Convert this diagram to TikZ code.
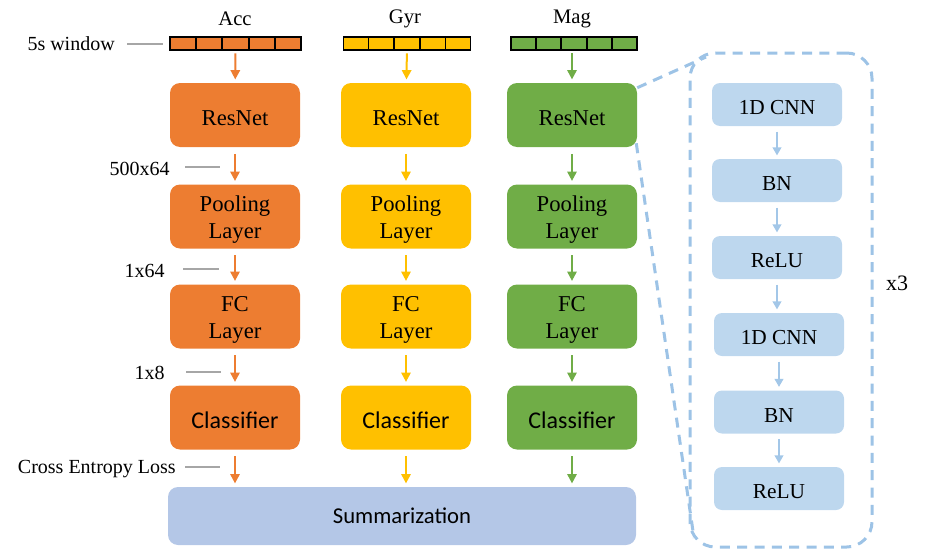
\documentclass[tikz,border=0pt]{standalone}
\usepackage{fontspec}
\setmainfont{Liberation Serif}
\newfontfamily\sansf{Carlito}
\usetikzlibrary{arrows.meta,calc}
\definecolor{corange}{HTML}{ED7D31}
\definecolor{cyellow}{HTML}{FFC000}
\definecolor{cgreen}{HTML}{70AD47}
\definecolor{csum}{HTML}{B4C7E7}
\definecolor{cpanel}{HTML}{BDD7EE}
\definecolor{cdash}{HTML}{9DC3E6}
\definecolor{cgray}{HTML}{A6A6A6}
\newcommand\lowtxt[1]{\raisebox{-2.4pt}[\height][\depth]{#1}}
\newcommand\twolines[2]{\lowtxt{\begin{tabular}{@{}c@{}}#1\\#2\end{tabular}}}
\tikzset{
  mainbox/.style={rectangle, rounded corners=7.5pt, minimum width=97.5pt, minimum height=48pt, inner sep=0pt, font=\rmfamily\fontsize{17}{20}\selectfont},
  clsbox/.style={mainbox, font=\sansf\fontsize{18}{20}\selectfont},
  winbox/.style={rectangle, draw=black, line width=1.2pt, minimum height=9.75pt, inner sep=0pt},
  pbox/.style={rectangle, rounded corners=6pt, fill=cpanel, minimum width=97.5pt, minimum height=32.25pt, inner sep=0pt, font=\rmfamily\fontsize{16}{18}\selectfont},
  sidelbl/.style={font=\rmfamily\fontsize{15}{17}\selectfont, inner sep=0pt},
  toplbl/.style={font=\rmfamily\fontsize{15.5}{17}\selectfont, inner sep=0pt},
  flow/.style={-{Triangle[length=7pt,width=7pt]}, line width=1.5pt, shorten <=5pt, shorten >=2.5pt},
  pflow/.style={-{Triangle[length=6pt,width=6.5pt]}, line width=1.3pt, draw=cdash!80!cpanel, shorten <=4pt, shorten >=2.5pt},
  glin/.style={draw=cgray, line width=1.2pt},
  dashln/.style={draw=cdash, line width=2.25pt, dash pattern=on 7.5pt off 5.5pt}
}
\begin{document}
\begin{tikzpicture}[x=0.75pt,y=-0.75pt]
\useasboundingbox (0,0) rectangle (926,557);

% top labels
\node[toplbl] (lacc) at (235,19) {Acc};
\node[toplbl] (lgyr) at (405,19) {Gyr};
\node[toplbl] (lmag) at (572,19) {Mag};

% windows
\node[winbox, fill=corange, minimum width=98.25pt] (wacc) at (235.5,43.5) {};
\node[winbox, fill=cyellow, minimum width=95.25pt] (wgyr) at (407,43.5) {};
\node[winbox, fill=cgreen, minimum width=94.5pt] (wmag) at (574,43.5) {};
\foreach \w in {wacc,wgyr,wmag}{
  \foreach \i in {1,2,3,4}{
    \draw[black, line width=1.2pt] ($(\w.north west)!\i/5!(\w.north east)$) -- ($(\w.south west)!\i/5!(\w.south east)$);
  }
}

% columns
\foreach \c/\x/\col in {a/235/corange, g/406/cyellow, m/572/cgreen}{
  \node[mainbox, fill=\col] (\c res) at (\x,115) {\lowtxt{ResNet}};
  \node[mainbox, fill=\col] (\c pool) at (\x,216.5) {\twolines{Pooling}{Layer}};
  \node[mainbox, fill=\col] (\c fc) at (\x,316.5) {\twolines{FC}{Layer}};
  \node[clsbox, fill=\col] (\c cls) at (\x,417.5) {\lowtxt{Classifier}};
}

\node[rectangle, rounded corners=7.5pt, fill=csum, minimum width=351pt, minimum height=43.5pt, font=\sansf\fontsize{17}{20}\selectfont] (sum) at (402,516) {Summarization};

% column arrows
\draw[flow, draw=corange, shorten <=2pt] (wacc) -- (ares);
\draw[flow, draw=cyellow, shorten <=2pt] (wgyr) -- (gres);
\draw[flow, draw=cgreen, shorten <=2pt] (wmag.south -| mres) -- (mres);
\foreach \c/\col in {a/corange, g/cyellow, m/cgreen}{
  \draw[flow, draw=\col] (\c res) -- (\c pool);
  \draw[flow, draw=\col] (\c pool) -- (\c fc);
  \draw[flow, draw=\col] (\c fc) -- (\c cls);
  \draw[flow, draw=\col] (\c cls) -- (\c cls |- sum.north);
}

% side labels
\node[sidelbl, anchor=east] (l5s) at (115,44) {5s window};
\node[sidelbl, anchor=east] (l500) at (170,169) {500x64};
\node[sidelbl, anchor=east] (l164) at (165,271) {1x64};
\node[sidelbl, anchor=east] (l18) at (165,373) {1x8};
\node[sidelbl, anchor=east] (lce) at (176,469) {Cross Entropy Loss};
\coordinate (e5s) at (163,44);
\coordinate (e500) at (220,167);
\coordinate (e164) at (219,269);
\coordinate (e18) at (221,372);
\coordinate (ece) at (220,467);
\draw[glin] ($(l5s.east)+(12,0)$) -- (e5s);
\draw[glin] ($(l500.east)+(15,-2)$) -- (e500);
\draw[glin] ($(l164.east)+(18,-2)$) -- (e164);
\draw[glin] ($(l18.east)+(21,-1)$) -- (e18);
\draw[glin] ($(lce.east)+(9,-2)$) -- (ece);

% right panel
\node[rectangle, rounded corners=19pt, dashln, minimum width=136.5pt, minimum height=370.5pt, inner sep=0pt] (panel) at (781,300) {};
\node[pbox] (p1) at (777,104.5) {\lowtxt{1D CNN}};
\node[pbox] (p2) at (777,180.5) {\lowtxt{BN}};
\node[pbox] (p3) at (777,257.5) {\lowtxt{ReLU}};
\node[pbox] (p4) at (779,334.5) {\lowtxt{1D CNN}};
\node[pbox] (p5) at (779,412) {\lowtxt{BN}};
\node[pbox] (p6) at (779,488.5) {\lowtxt{ReLU}};
\draw[pflow] (p1) -- (p2);
\draw[pflow] (p2) -- (p3);
\draw[pflow] (p3.south) -- (p3.south |- p4.north);
\draw[pflow] (p4) -- (p5);
\draw[pflow] (p5) -- (p6);
\node[font=\rmfamily\fontsize{16.5}{18}\selectfont, inner sep=0pt] (x3) at (897,283) {x3};

% zoom lines
\coordinate (ptl) at (706,57);
\coordinate (pbl) at (694,538);
\draw[dashln] ($(mres.north east)+(0,5)$) -- (ptl);
\draw[dashln] ($(mres.south east)+(-1,-4)$) -- (pbl);
\end{tikzpicture}
\end{document}
